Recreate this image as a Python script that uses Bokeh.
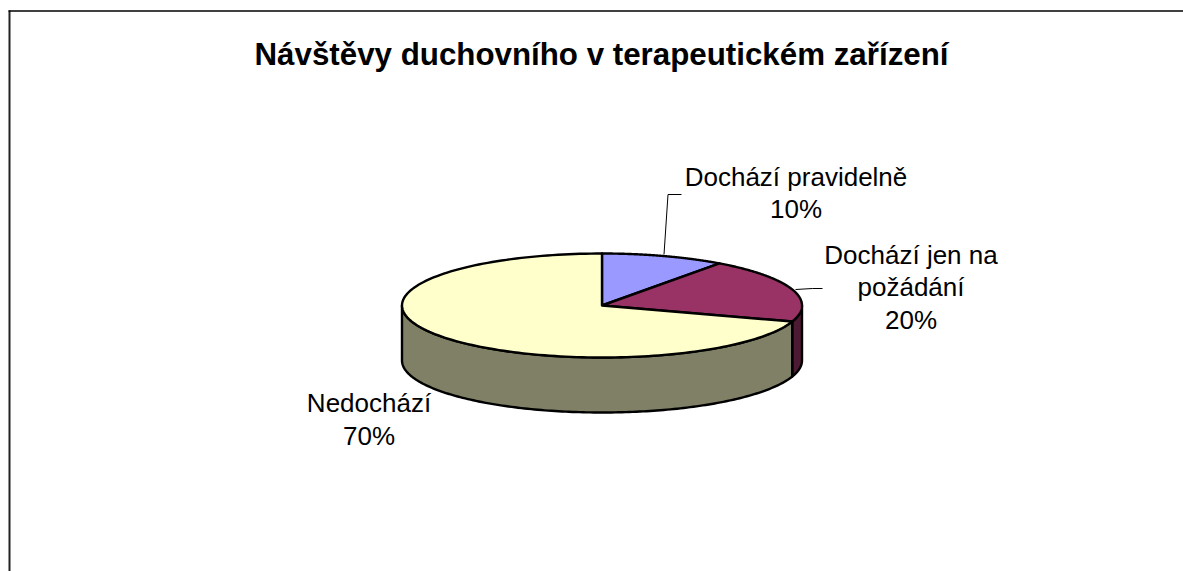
import numpy as np
from bokeh.plotting import figure
from bokeh.models import Range1d
from bokeh.core.properties import value
from bokeh.embed import file_html
from bokeh.resources import INLINE

title_text = "Návštěvy duchovního v terapeutickém zařízení"
categories = ["Dochází pravidelně", "Dochází jen na požádání", "Nedochází"]
shares = [10, 20, 70]
top_colors = ["#9999FF", "#993366", "#FFFFCC"]
side_colors = ["#4D4D80", "#4D1A33", "#808066"]
label_lines = [["Dochází pravidelně", "10%"], ["Dochází jen na", "požádání", "20%"], ["Nedochází", "70%"]]
label_anchor = [(795.5, [176, 208]), (910.5, [254, 286, 319]), (368.5, [402, 435])]

W, H = 1183, 571
cx, cy, rx, ry, depth = 601.5, 305.0, 200.0, 52.0, 55.0

p = figure(width=W, height=H, output_backend="svg", toolbar_location=None,
           x_range=Range1d(0, W), y_range=Range1d(H, 0),
           min_border=0, outline_line_color=None, background_fill_color="white")
p.xaxis.visible = False
p.yaxis.visible = False
p.grid.visible = False

# chart frame: top and left edges
p.line([9, 9], [H, 10], line_color="#222222", line_width=2)
p.line([8, W], [10.5, 10.5], line_color="black", line_width=1.3)

def pt(t, dz=0.0):
    return cx + rx * np.sin(t), cy - ry * np.cos(t) + dz

edges = np.cumsum([0] + shares) / sum(shares) * 2 * np.pi

# outer wall: only the front half (angles 90..270 deg) is visible
for i, col in enumerate(side_colors):
    a, b = max(edges[i], np.pi / 2), min(edges[i + 1], 3 * np.pi / 2)
    if b <= a:
        continue
    t = np.linspace(a, b, 160)
    x1, y1 = pt(t)
    x2, y2 = pt(t[::-1], depth)
    p.patch(np.r_[x1, x2], np.r_[y1, y2], fill_color=col, line_color="black", line_width=2.4, line_join="round")

# top faces
for i, col in enumerate(top_colors):
    t = np.linspace(edges[i], edges[i + 1], 160)
    x, y = pt(t)
    p.patch(np.r_[cx, x], np.r_[cy, y], fill_color=col, line_color="black", line_width=2.4, line_join="round")

# leader lines
p.line([663.5, 667.5, 681], [254, 194, 194], line_color="black", line_width=1)
p.line([795, 812, 822], [289, 288, 288], line_color="black", line_width=1)

font = value("Liberation Sans")
p.text([cx - 0.5], [54], text=[title_text], text_font=font, text_font_style="bold", text_font_size="31.3px",
       text_align="center", text_baseline="middle", text_color="black")
for (lx, ys), lines in zip(label_anchor, label_lines):
    p.text([lx] * len(lines), ys, text=lines, text_font=font, text_font_size="26px",
           text_align="center", text_baseline="middle", text_color="black")

open("out.html", "w").write(file_html(p, INLINE))
